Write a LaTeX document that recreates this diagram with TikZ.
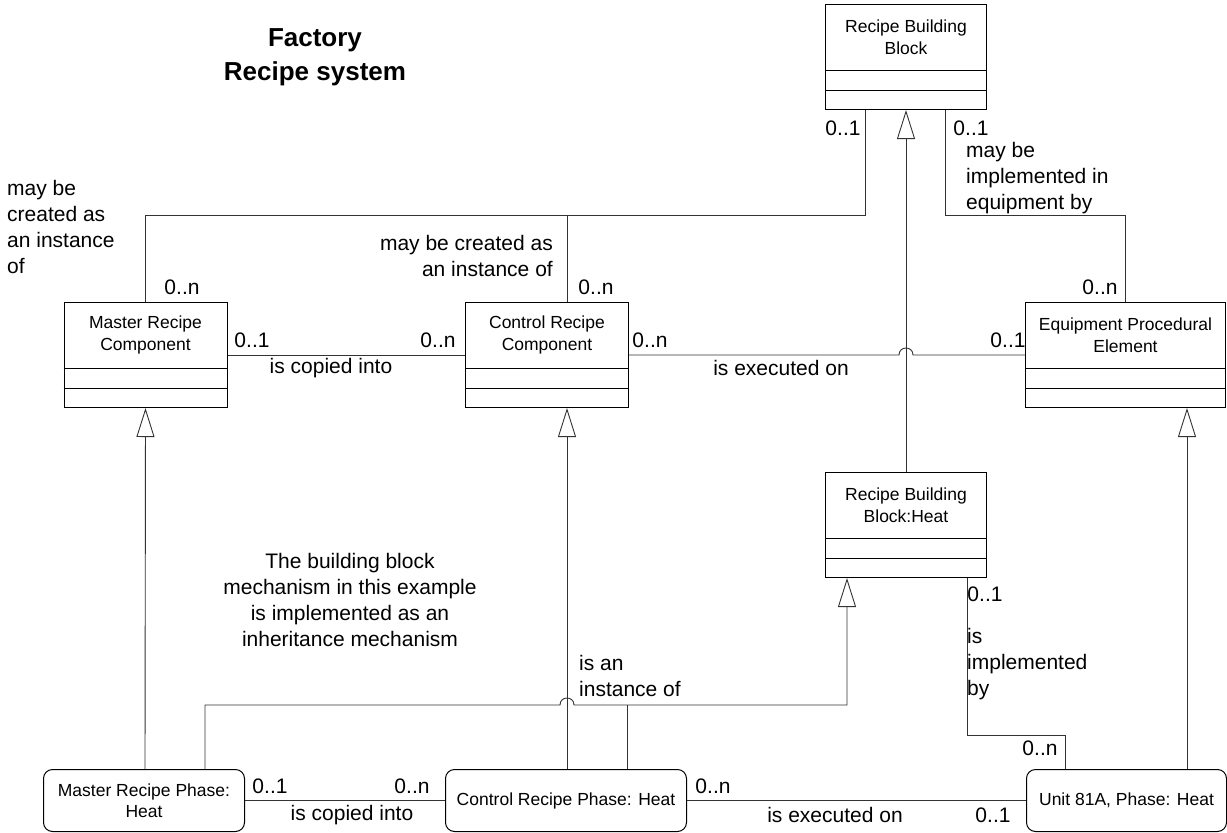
\documentclass[tikz,border=0pt]{standalone}
\usepackage{fontspec}
\setmainfont{Liberation Sans}
\usetikzlibrary{arrows.meta,calc}
\begin{document}
\begin{tikzpicture}[x=1pt,y=-1pt,
  clsbox/.style={draw=black, line width=1pt, minimum height=105pt, inner sep=0pt, anchor=north west},
  clstext/.style={font=\fontsize{17.5}{21.5}\selectfont, align=center, inner sep=0pt},
  phasebox/.style={draw=black, line width=1pt, rounded corners=9pt, minimum height=62pt, inner sep=0pt, anchor=north west, align=center, font=\fontsize{17.5}{21.5}\selectfont},
  compline/.style={draw=black, line width=1pt},
  conn/.style={draw=black!80, line width=0.9pt},
  inh/.style={draw=black!80, line width=0.9pt, -{Triangle[open, length=29pt, width=18pt]}},
  lbl/.style={font=\fontsize{21}{26}\selectfont, inner sep=0pt},
  ttl/.style={font=\fontsize{26}{30}\selectfont\bfseries, inner sep=0pt}
]
\useasboundingbox (0,0) rectangle (1227,833);

% title
\node[ttl, anchor=base] (t1) at (315,46) {Factory};
\node[ttl, anchor=base] (t2) at (315,80) {Recipe system};

% class boxes with two empty compartments
\node[clsbox, minimum width=161pt] (rbb) at (825,4) {};
\node[clsbox, minimum width=161pt] (rbbh) at (825,472) {};
\node[clsbox, minimum width=163pt] (mrc) at (63.5,302) {};
\node[clsbox, minimum width=163pt] (crc) at (465,302) {};
\node[clsbox, minimum width=200pt] (epe) at (1025,302) {};
\foreach \b in {rbb,rbbh,mrc,crc,epe}{
  \draw[compline] ($(\b.north west)+(0,66)$) -- ($(\b.north east)+(0,66)$);
  \draw[compline] ($(\b.north west)+(0,86)$) -- ($(\b.north east)+(0,86)$);
}
\node[clstext] (rbbt) at ($(rbb.north)+(0,33)$) {Recipe Building\\Block};
\node[clstext] (rbbht) at ($(rbbh.north)+(0,33)$) {Recipe Building\\Block:Heat};
\node[clstext] (mrct) at ($(mrc.north)+(0,33)$) {Master Recipe\\Component};
\node[clstext] (crct) at ($(crc.north)+(0,33)$) {Control Recipe\\Component};
\node[clstext] (epet) at ($(epe.north)+(0,33)$) {Equipment Procedural\\Element};

% phase boxes
\node[phasebox, minimum width=201pt] (mrp) at (43,769) {Master Recipe Phase:\\Heat};
\node[phasebox, minimum width=241pt] (crp) at (445,769) {Control Recipe Phase: Heat};
\node[phasebox, minimum width=200pt] (unit) at (1026,769) {Unit 81A, Phase: Heat};

% associations to the recipe building block
\draw[conn] (mrc.north) -- ++(0,-87) -| ($(rbb.south west)+(40,0)$);
\draw[conn] ($(crc.north west)+(102,0)$) -- ++(0,-87);
\draw[conn] ($(rbb.south west)+(120,0)$) |- ($(epe.north)+(0,-87)$) -- (epe.north);

% inheritance of the heat building block
\draw[inh] (rbbh.north) -- (rbb.south);

% component associations
\draw[conn] (mrc.east) -- (crc.west);
\coordinate (hopA) at (rbb.south |- crc.east);
\draw[conn] (crc.east) -- ($(hopA)+(-7,0)$)
  .. controls ($(hopA)+(-7,-9.3)$) and ($(hopA)+(7,-9.3)$) .. ($(hopA)+(7,0)$)
  -- (epe.west);

% phases inherit from components
\draw[inh] ($(mrp.north west)+(102,0)$) -- (mrc.south);
\draw[inh] ($(crp.north west)+(122,0)$) -- ($(crc.south west)+(102,0)$);
\draw[inh] ($(unit.north west)+(161,0)$) -- ($(epe.south west)+(162,0)$);

% phases are instances of the heat building block
\coordinate (hopB) at ($(crp.north west)+(122,-64)$);
\draw[inh] ($(mrp.north west)+(162,0)$) |- ($(hopB)+(-7,0)$)
  .. controls ($(hopB)+(-7,-9.3)$) and ($(hopB)+(7,-9.3)$) .. ($(hopB)+(7,0)$)
  -| ($(rbbh.south west)+(22,0)$);
\draw[conn] ($(crp.north west)+(182,0)$) -- ++(0,-64);

% implemented by
\draw[conn] ($(rbbh.south west)+(142,0)$) |- ($(unit.north west)+(39,-34)$) -- ($(unit.north west)+(39,0)$);

% phase associations
\draw[conn] (mrp.east) -- (crp.west);
\draw[conn] (crp.east) -- (unit.west);

% multiplicities and role texts
\node[lbl] (m1) at (843,128) {0..1};
\node[lbl] (m2) at (971,128) {0..1};
\node[lbl, anchor=west, align=left] (r1) at (966,178) {may be\\implemented in\\equipment by};
\node[lbl, anchor=west, align=left] (r2) at (7,227) {may be\\created as\\an instance\\of};
\node[lbl] (m3) at (182,287) {0..n};
\node[lbl, anchor=east, align=right] (r3) at (553,256) {may be created as\\an instance of};
\node[lbl] (m4) at (596,287) {0..n};
\node[lbl] (m5) at (1100,287) {0..n};
\node[lbl] (m6) at (252,340) {0..1};
\node[lbl] (m7) at (438,340) {0..n};
\node[lbl] (r4) at (331,368) {is copied into};
\node[lbl] (m8) at (650,340) {0..n};
\node[lbl] (r5) at (781,368) {is executed on};
\node[lbl] (m9) at (1008,340) {0..1};
\node[lbl, align=center] (note) at (350,600) {The building block\\mechanism in this example\\is implemented as an\\inheritance mechanism};
\node[lbl, anchor=west, align=left] (r6) at (579,676) {is an\\instance of};
\node[lbl] (m10) at (985,594) {0..1};
\node[lbl, anchor=west, align=left] (r7) at (967,664) {is\\implemented\\by};
\node[lbl] (m11) at (1040,748) {0..n};
\node[lbl] (m12) at (270,786) {0..1};
\node[lbl] (m13) at (412,786) {0..n};
\node[lbl] (r8) at (352,815) {is copied into};
\node[lbl] (m14) at (713,786) {0..n};
\node[lbl] (r9) at (835,815) {is executed on};
\node[lbl] (m15) at (993,815) {0..1};
\end{tikzpicture}
\end{document}
